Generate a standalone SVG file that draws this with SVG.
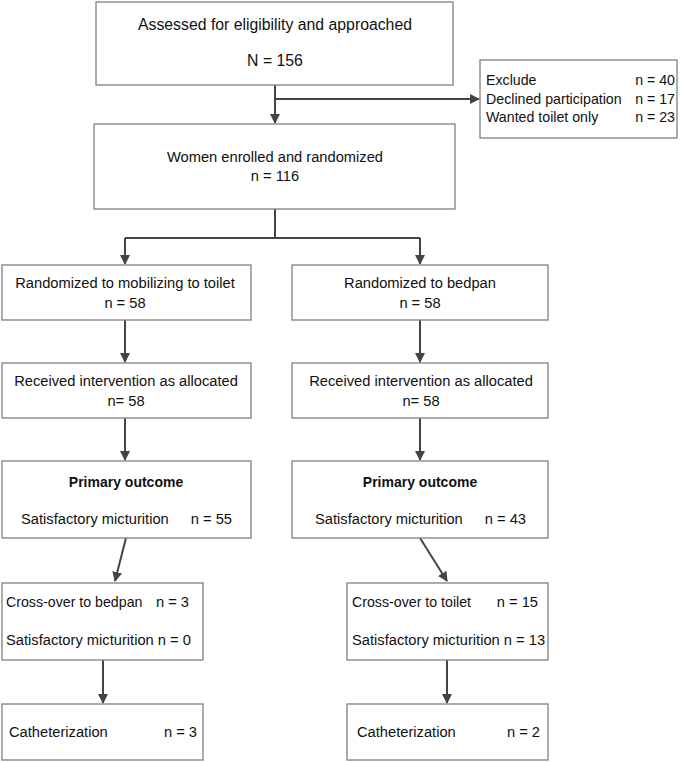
<svg xmlns="http://www.w3.org/2000/svg" width="685" height="762" viewBox="0 0 685 762">
<style>
.box{fill:#fff;stroke:#808080;stroke-width:1.3}
.t{font-family:"Liberation Sans",Arial,sans-serif;font-size:14.7px;fill:#111}
.s{font-size:14.2px}
.c{text-anchor:middle}
.e{text-anchor:end}
.b{font-weight:bold;font-size:14px}
.big{font-size:15.8px}
.ln{stroke:#444;stroke-width:2;fill:none}
</style>
<defs>
<marker id="ah" markerWidth="10" markerHeight="10" refX="9" refY="5" orient="auto" markerUnits="userSpaceOnUse">
<path d="M0,0 L10,5 L0,10 z" fill="#444"/>
</marker>
</defs>
<rect width="685" height="762" fill="#fff"/>
<g id="connectors">
<path class="ln" d="M275,85 V123" marker-end="url(#ah)"/>
<path class="ln" d="M275,99 H479" marker-end="url(#ah)"/>
<path class="ln" d="M275,209 V238 M125,238 H420"/>
<path class="ln" d="M125,238 V264" marker-end="url(#ah)"/>
<path class="ln" d="M420,238 V264" marker-end="url(#ah)"/>
<path class="ln" d="M125,320 V362" marker-end="url(#ah)"/>
<path class="ln" d="M420,320 V362" marker-end="url(#ah)"/>
<path class="ln" d="M125,418 V460" marker-end="url(#ah)"/>
<path class="ln" d="M420,418 V460" marker-end="url(#ah)"/>
<path class="ln" d="M126,538 L115,581" marker-end="url(#ah)"/>
<path class="ln" d="M420,538 L447,581" marker-end="url(#ah)"/>
<path class="ln" d="M103,660 V703" marker-end="url(#ah)"/>
<path class="ln" d="M447,660 V703" marker-end="url(#ah)"/>
</g>
<g id="assessed">
<rect class="box" x="96" y="2" width="357" height="83"/>
<text class="t c big" x="275" y="30">Assessed for eligibility and approached</text>
<text class="t c big" x="275" y="66">N = 156</text>
</g>
<g id="excluded">
<rect class="box" x="480" y="60" width="197" height="78"/>
<text class="t s" x="486" y="85">Exclude</text>
<text class="t s e" x="675" y="85">n = 40</text>
<text class="t s" x="486" y="104">Declined participation</text>
<text class="t s e" x="675" y="104">n = 17</text>
<text class="t s" x="486" y="122">Wanted toilet only</text>
<text class="t s e" x="675" y="122">n = 23</text>
</g>
<g id="enrolled">
<rect class="box" x="94" y="124" width="361" height="85"/>
<text class="t c" x="275" y="162">Women enrolled and randomized</text>
<text class="t c" x="275" y="181">n = 116</text>
</g>
<g id="rand-toilet">
<rect class="box" x="2" y="265" width="249" height="55"/>
<text class="t c" x="125" y="288">Randomized to mobilizing to toilet</text>
<text class="t c" x="125" y="308">n = 58</text>
</g>
<g id="rand-bedpan">
<rect class="box" x="292" y="265" width="256" height="55"/>
<text class="t c" x="420" y="288">Randomized to bedpan</text>
<text class="t c" x="420" y="308">n = 58</text>
</g>
<g id="received-toilet">
<rect class="box" x="2" y="363" width="249" height="55"/>
<text class="t c" x="126" y="386">Received intervention as allocated</text>
<text class="t c" x="126" y="406">n= 58</text>
</g>
<g id="received-bedpan">
<rect class="box" x="292" y="363" width="256" height="55"/>
<text class="t c" x="421" y="386">Received intervention as allocated</text>
<text class="t c" x="421" y="406">n= 58</text>
</g>
<g id="primary-toilet">
<rect class="box" x="2" y="461" width="249" height="77"/>
<text class="t c b" x="126" y="487">Primary outcome</text>
<text class="t" x="21" y="524">Satisfactory micturition</text>
<text class="t e" x="232" y="524">n = 55</text>
</g>
<g id="primary-bedpan">
<rect class="box" x="292" y="461" width="256" height="77"/>
<text class="t c b" x="420" y="487">Primary outcome</text>
<text class="t" x="315" y="524">Satisfactory micturition</text>
<text class="t e" x="526" y="524">n = 43</text>
</g>
<g id="crossover-bedpan">
<rect class="box" x="2" y="583" width="201" height="77"/>
<text class="t s" x="6" y="607">Cross-over to bedpan</text>
<text class="t e" x="189" y="607">n = 3</text>
<text class="t" x="6" y="645">Satisfactory micturition n = 0</text>
</g>
<g id="crossover-toilet">
<rect class="box" x="347" y="583" width="201" height="77"/>
<text class="t s" x="352" y="607">Cross-over to toilet</text>
<text class="t e" x="538" y="607">n = 15</text>
<text class="t" x="352" y="645">Satisfactory micturition n = 13</text>
</g>
<g id="cath-toilet">
<rect class="box" x="2" y="704" width="201" height="56"/>
<text class="t" x="9" y="737">Catheterization</text>
<text class="t e" x="197" y="737">n = 3</text>
</g>
<g id="cath-bedpan">
<rect class="box" x="347" y="704" width="201" height="56"/>
<text class="t" x="357" y="737">Catheterization</text>
<text class="t e" x="540" y="737">n = 2</text>
</g>
</svg>
